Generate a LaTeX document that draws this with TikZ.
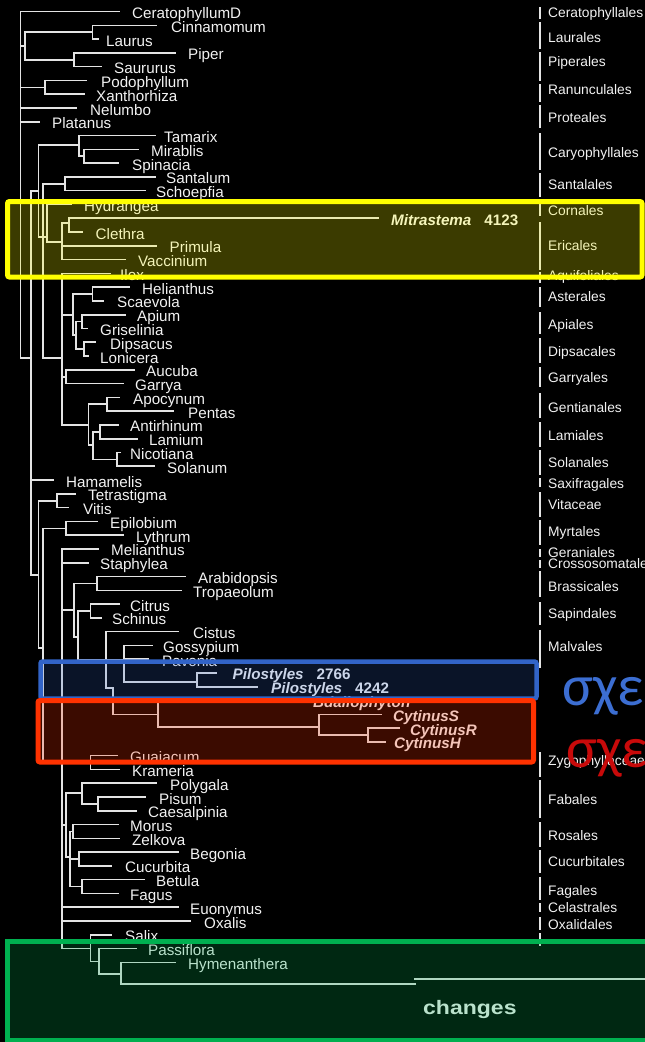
\documentclass[tikz,border=0pt]{standalone}
\usepackage{fontspec}
\setmainfont{Liberation Sans}
\newfontfamily\greekfont{Carlito}
\newfontfamily\chfont[FakeStretch=1.18]{Liberation Sans}
\definecolor{linec}{RGB}{228,228,228}
\definecolor{txtc}{RGB}{242,242,242}
\definecolor{ybox}{RGB}{255,255,0}
\definecolor{bbox}{RGB}{50,100,200}
\definecolor{rbox}{RGB}{255,50,0}
\definecolor{gbox}{RGB}{0,176,80}
\definecolor{bluetxt}{RGB}{60,110,210}
\definecolor{redtxt}{RGB}{200,10,10}
\newcommand{\tipfont}{\fontsize{15.2}{15.2}\selectfont}
\newcommand{\ordfont}{\fontsize{13.8}{13.8}\selectfont}
\tikzset{
  treeln/.style={draw=linec, line width=1.6pt, line cap=rect},
  ordbar/.style={draw=linec, line width=1.8pt},
  tiplab/.style={anchor=base west, inner sep=0pt, yshift=-7pt, text=txtc, font=\tipfont},
  olab/.style={anchor=base west, inner sep=0pt, yshift=-5pt, text=txtc, font=\ordfont},
}
\newcommand{\tipl}[6]{\draw[treeln] (#1,#2) -- (#3,#2); \node[tiplab] (#5) at (#4,#2) {#6};}
\newcommand{\vl}[3]{\draw[treeln] (#1,#2) -- (#1,#3);}
\newcommand{\hl}[3]{\draw[treeln] (#1,#3) -- (#2,#3);}
\newcommand{\olabel}[3]{\node[olab] (#1) at (548,#2) {#3};}
\newcommand{\obar}[2]{\draw[ordbar] (540,#1) -- (540,#2);}
\begin{document}
\begin{tikzpicture}[x=1pt,y=-1pt]
\useasboundingbox (0,0) rectangle (645,1042);
\fill[black] (0,0) rectangle (645,1042);
\clip (0,0) rectangle (645,1042);
% ---------- basal ----------
\vl{20.5}{11.5}{358}
\tipl{20.5}{11.5}{119}{132}{cer}{CeratophyllumD}
\hl{20.5}{25}{46}
\vl{25}{32}{60}
\hl{25}{92.5}{32}
\vl{92.5}{25.3}{39.1}
\tipl{92.5}{25.3}{156}{171}{cin}{Cinnamomum}
\tipl{92.5}{39.1}{98}{106}{lau}{Laurus}
\hl{25}{74}{60}
\vl{74}{52.8}{66.6}
\tipl{74}{52.8}{175}{188}{pip}{Piper}
\tipl{74}{66.6}{101}{114}{sau}{Saururus}
\hl{20.5}{45}{87.3}
\vl{45}{80.4}{94.2}
\tipl{45}{80.4}{86}{101}{pod}{Podophyllum}
\tipl{45}{94.2}{84}{96}{xan}{Xanthorhiza}
\tipl{20.5}{108}{76}{90}{nel}{Nelumbo}
\tipl{20.5}{121.7}{39}{52}{pla}{Platanus}
\hl{20.5}{31}{358}
% ---------- core eudicots ----------
\vl{31}{191}{575}
\hl{31}{38.3}{191}
\vl{38.3}{145}{237}
\hl{38.3}{79}{145}
\vl{79}{135.5}{156}
\tipl{79}{135.5}{155}{164}{tam}{Tamarix}
\hl{79}{84}{156}
\vl{84}{149.3}{163.1}
\tipl{84}{149.3}{138}{151}{mir}{Mirablis}
\tipl{84}{163.1}{118}{132}{spi}{Spinacia}
\vl{42.7}{183.7}{358}
\hl{42.7}{65}{183.7}
\vl{65}{176.9}{190.6}
\tipl{65}{176.9}{155}{166}{san}{Santalum}
\tipl{65}{190.6}{145}{156}{sch}{Schoepfia}
\hl{38.3}{46.7}{237}
\vl{46.7}{204.4}{242}
\tipl{46.7}{204.4}{71}{84}{hyd}{Hydrangea}
\hl{46.7}{62}{242}
\vl{62}{223}{259.5}
\hl{62}{69}{223}
\vl{69}{218.2}{232}
\tipl{69}{218.2}{378.6}{391}{mit}{\bfseries\itshape Mitrastema\hspace{13pt}\upshape 4123}
\tipl{69}{232}{82}{95.5}{cle}{Clethra}
\tipl{62}{245.8}{156}{169.5}{pri}{Primula}
\tipl{62}{259.5}{125.5}{138}{vac}{Vaccinium}
% euasterids
\hl{42.7}{61.7}{358}
\vl{61.7}{273.3}{425}
\tipl{61.7}{273.3}{110}{120}{ile}{Ilex}
\hl{61.7}{73}{315}
\vl{73}{294}{335}
\hl{73}{92.6}{294}
\vl{92.6}{287.1}{300.9}
\tipl{92.6}{287.1}{129.6}{142}{hel}{Helianthus}
\tipl{92.6}{300.9}{103}{117}{sca}{Scaevola}
\hl{73}{76}{335}
\vl{76}{321.5}{349}
\hl{76}{82}{321.5}
\vl{82}{314.7}{328.4}
\tipl{82}{314.7}{125}{137}{api}{Apium}
\tipl{82}{328.4}{87}{100}{gri}{Griselinia}
\hl{76}{84}{349}
\vl{84}{342.2}{356}
\tipl{84}{342.2}{95}{110}{dip}{Dipsacus}
\tipl{84}{356}{88}{100}{lon}{Lonicera}
\hl{61.7}{66}{376.7}
\vl{66}{369.8}{383.6}
\tipl{66}{369.8}{134}{146}{auc}{Aucuba}
\tipl{66}{383.6}{123}{135}{gar}{Garrya}
\hl{61.7}{88.5}{425}
\vl{88.5}{404}{445}
\hl{88.5}{107}{404}
\vl{107}{397.3}{411.1}
\tipl{107}{397.3}{119}{133}{apo}{Apocynum}
\tipl{107}{411.1}{173}{188}{pen}{Pentas}
\hl{88.5}{93}{445}
\vl{93}{431.8}{459.3}
\hl{93}{100}{431.8}
\vl{100}{424.9}{438.7}
\tipl{100}{424.9}{118}{130}{ant}{Antirhinum}
\tipl{100}{438.7}{137}{149}{lam}{Lamium}
\hl{93}{117}{459.3}
\vl{117}{452.5}{466.2}
\tipl{117}{452.5}{120}{130}{nic}{Nicotiana}
\tipl{117}{466.2}{154}{167}{sol}{Solanum}
% ---------- Saxifragales, Vitales, rosids ----------
\tipl{31}{480}{53.5}{66}{ham}{Hamamelis}
\hl{31}{38.5}{575}
\vl{38.5}{500.7}{648}
\hl{38.5}{56.7}{500.7}
\vl{56.7}{493.8}{507.6}
\tipl{56.7}{493.8}{75}{88}{tet}{Tetrastigma}
\tipl{56.7}{507.6}{68}{83}{vit}{Vitis}
\hl{38.5}{43}{648}
\vl{43}{528.3}{763}
\hl{43}{66}{528.3}
\vl{66}{521.4}{535.1}
\tipl{66}{521.4}{97}{110}{epi}{Epilobium}
\tipl{66}{535.1}{123}{136}{lyt}{Lythrum}
\hl{43}{62}{763}
\vl{62}{548.9}{948.5}
\tipl{62}{548.9}{98}{111}{mel}{Melianthus}
\tipl{62}{562.7}{88}{100}{sta}{Staphylea}
% malvids
\hl{62}{74}{610}
\vl{74}{583.4}{637}
\hl{74}{96.7}{583.4}
\vl{96.7}{576.5}{590.3}
\tipl{96.7}{576.5}{185}{198}{ara}{Arabidopsis}
\tipl{96.7}{590.3}{181}{193}{tro}{Tropaeolum}
\hl{74}{78}{637}
\vl{78}{611}{660}
\hl{78}{90.5}{611}
\vl{90.5}{604}{617.8}
\tipl{90.5}{604}{119}{130}{cit}{Citrus}
\tipl{90.5}{617.8}{101}{112}{schi}{Schinus}
\hl{78}{124}{660}
\vl{106}{631.6}{688}
\tipl{106}{631.6}{178}{193}{cis}{Cistus}
\vl{124}{645.4}{682}
\tipl{124}{645.4}{152}{163}{gos}{Gossypium}
\tipl{124}{659.2}{148}{162}{pav}{Pavonia}
\hl{124}{197}{682}
\vl{197}{672.9}{686.7}
\tipl{197}{672.9}{216}{232.5}{pil1}{\bfseries\itshape Pilostyles\hspace{13pt}\upshape 2766}
\tipl{197}{686.7}{257}{271}{pil2}{\bfseries\itshape Pilostyles\hspace{13pt}\upshape 4242}
\hl{106}{113}{688}
\vl{113}{688}{714.3}
\hl{113}{158}{714.3}
\vl{158}{700.5}{727}
\tipl{158}{700.5}{300}{313}{bda}{\bfseries\itshape Bdallophyton}
\hl{158}{319}{727}
\vl{319}{714.3}{735}
\tipl{319}{714.3}{381}{393}{cys}{\bfseries\itshape CytinusS}
\hl{319}{368}{735}
\vl{368}{728.1}{741.8}
\tipl{368}{728.1}{399}{410}{cyr}{\bfseries\itshape CytinusR}
\tipl{368}{741.8}{385}{394}{cyh}{\bfseries\itshape CytinusH}
% Zygophyllales
\hl{62}{90.5}{762.5}
\vl{90.5}{755.6}{769.4}
\tipl{90.5}{755.6}{117}{130}{gua}{Guaiacum}
\tipl{90.5}{769.4}{119}{132}{kra}{Krameria}
% fabids
\hl{62}{66}{825}
\vl{66}{793}{857}
\hl{66}{82}{793}
\vl{82}{783.2}{803.8}
\tipl{82}{783.2}{156}{170}{pol}{Polygala}
\hl{82}{98}{803.8}
\vl{98}{797}{810.7}
\tipl{98}{797}{145}{159}{pis}{Pisum}
\tipl{98}{810.7}{136}{148}{cae}{Caesalpinia}
\hl{66}{70}{857}
\vl{70}{831.4}{886.5}
\hl{70}{73}{831.4}
\vl{73}{824.5}{838.3}
\tipl{73}{824.5}{118}{130}{mor}{Morus}
\tipl{73}{838.3}{119}{132}{zel}{Zelkova}
\hl{70}{79}{859}
\vl{79}{852.1}{865.9}
\tipl{79}{852.1}{178}{190}{beg}{Begonia}
\tipl{79}{865.9}{111}{125}{cuc}{Cucurbita}
\hl{70}{82}{886.5}
\vl{82}{879.6}{893.4}
\tipl{82}{879.6}{144}{156}{bet}{Betula}
\tipl{82}{893.4}{118}{130}{fag}{Fagus}
\tipl{62}{907.2}{178}{190}{euo}{Euonymus}
\tipl{62}{921}{190}{204}{oxa}{Oxalis}
% Malpighiales
\hl{62}{90.5}{948.5}
\vl{90.5}{934.8}{961.5}
\tipl{90.5}{934.8}{111}{125}{sal}{Salix}
\hl{90.5}{99}{961.5}
\vl{99}{948.5}{974}
\tipl{99}{948.5}{136}{148}{pas}{Passiflora}
\hl{99}{121}{974}
\vl{121}{962.3}{984}
\tipl{121}{962.3}{175}{188}{hym}{Hymenanthera}
\coordinate (lb) at (415,984);
\draw[treeln] (121,984) -- (lb);
% scale bar
\coordinate (sba) at (415,979);
\coordinate (sbb) at (660,979);
\draw[treeln] (sba) -- (sbb);
\node[anchor=base west, inner sep=0pt, text=txtc, font=\chfont\bfseries\fontsize{19.5}{19.5}\selectfont] (chg) at (423,1014) {changes};
% ---------- order labels ----------
\obar{7}{19}\olabel{o1}{12}{Ceratophyllales}
\obar{22}{49}\olabel{o2}{37}{Laurales}
\obar{52}{81}\olabel{o3}{61.5}{Piperales}
\obar{84}{102}\olabel{o4}{89.5}{Ranunculales}
\obar{105}{128}\olabel{o5}{117.5}{Proteales}
\obar{133}{170}\olabel{o6}{152}{Caryophyllales}
\obar{173}{197}\olabel{o7}{184}{Santalales}
\obar{203}{216}\olabel{o8}{210}{Cornales}
\obar{222}{270}\olabel{o9}{245}{Ericales}
\obar{272}{283}\olabel{o10}{275}{Aquifoliales}
\obar{287}{307}\olabel{o11}{296.5}{Asterales}
\obar{312}{334}\olabel{o12}{324}{Apiales}
\obar{338}{363}\olabel{o13}{351.5}{Dipsacales}
\obar{367}{387}\olabel{o14}{377}{Garryales}
\obar{393}{418}\olabel{o15}{407}{Gentianales}
\obar{422}{447}\olabel{o16}{435}{Lamiales}
\obar{450}{475}\olabel{o17}{462.5}{Solanales}
\obar{478}{487}\olabel{o18}{483}{Saxifragales}
\obar{492}{517}\olabel{o19}{504}{Vitaceae}
\obar{520}{545}\olabel{o20}{531.5}{Myrtales}
\obar{549}{557}\olabel{o21}{552}{Geraniales}
\obar{560}{568}\olabel{o22}{563.5}{Crossosomatales}
\obar{571}{597}\olabel{o23}{586}{Brassicales}
\obar{602}{625}\olabel{o24}{613}{Sapindales}
\obar{630}{668}\olabel{o25}{646}{Malvales}
\obar{752}{777}\olabel{o26}{760}{Zygophyllaceae}
\obar{780}{818}\olabel{o27}{799}{Fabales}
\obar{822}{847}\olabel{o28}{835}{Rosales}
\obar{850}{873}\olabel{o29}{861}{Cucurbitales}
\obar{877}{900}\olabel{o30}{890}{Fagales}
\obar{903}{912}\olabel{o31}{907.5}{Celastrales}
\obar{917}{930}\olabel{o32}{924}{Oxalidales}
\obar{933}{946}
% ---------- highlight boxes ----------
\fill[ybox, opacity=0.23] (7.5,201.5) rectangle (642,277);
\draw[ybox, line width=5pt, rounded corners=2pt] (7.5,201.5) rectangle (642,277);
\fill[bbox, opacity=0.2] (40.5,661.5) rectangle (536.5,698.5);
\draw[bbox, line width=4.5pt, rounded corners=2pt] (40.5,661.5) rectangle (536.5,698.5);
\fill[rbox, opacity=0.23] (38,700.5) rectangle (533.5,762);
\draw[rbox, line width=5pt, rounded corners=2pt] (38,700.5) rectangle (533.5,762);
\fill[gbox, opacity=0.23] (7.5,941.5) rectangle (700,1040);
\draw[gbox, line width=5pt] (7.5,941.5) rectangle (700,1040);
% ---------- Greek texts ----------
\node[anchor=base west, inner sep=0pt, text=bluetxt, font=\greekfont\fontsize{58}{58}\selectfont] (sb) at (562,705) {σχε};
\node[anchor=base west, inner sep=0pt, text=redtxt, font=\greekfont\fontsize{58}{58}\selectfont] (sr) at (566,767) {σχε};
\end{tikzpicture}
\end{document}
